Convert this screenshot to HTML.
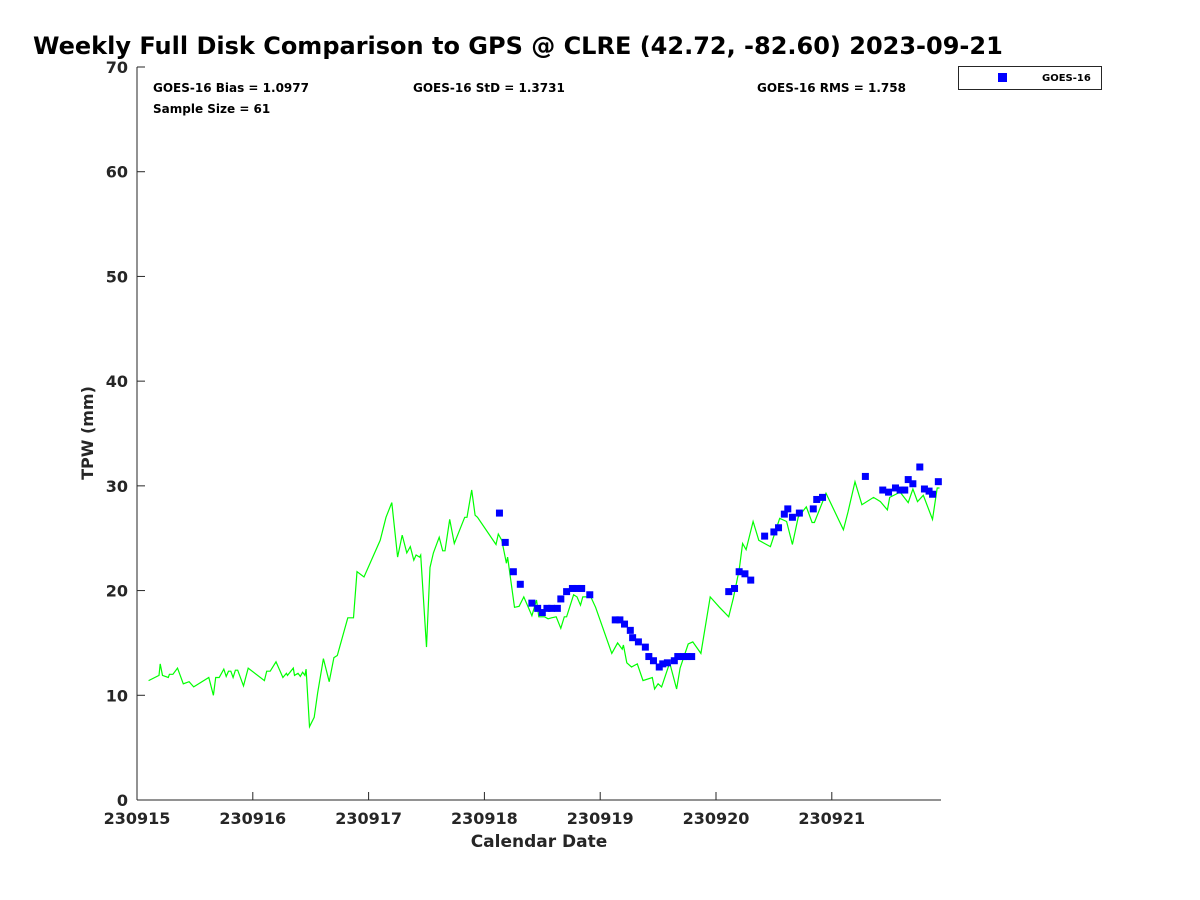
<!DOCTYPE html>
<html><head><meta charset="utf-8"><style>
body{margin:0;background:#fff;}
svg{display:block;font-family:"DejaVu Sans","Liberation Sans",sans-serif;}
</style></head><body>
<svg id="chart" width="1200" height="900">
<text x="33" y="54" font-size="24" font-weight="bold" fill="#000">Weekly Full Disk Comparison to GPS @ CLRE (42.72, -82.60) 2023-09-21</text>
<g font-size="12" font-weight="bold" fill="#000">
<text x="153" y="92">GOES-16 Bias = 1.0977</text>
<text x="413" y="92">GOES-16 StD = 1.3731</text>
<text x="757" y="92">GOES-16 RMS = 1.758</text>
<text x="153" y="113">Sample Size = 61</text>
</g>
<g>
<rect x="958.5" y="66.5" width="143" height="23" fill="#fff" stroke="#262626" stroke-width="1"/>
<rect x="998" y="73" width="9" height="9" fill="#0000ff"/>
<text x="1042" y="81" font-size="10" font-weight="bold" fill="#000">GOES-16</text>
</g>
<g id="axes"></g>
<g id="marks"></g>
<text x="539" y="847" font-size="17" font-weight="bold" fill="#262626" text-anchor="middle">Calendar Date</text>
<text transform="translate(93,433) rotate(-90)" font-size="16" font-weight="bold" fill="#262626" text-anchor="middle">TPW (mm)</text>
</svg>
<script>
const xTickLabels=["230915","230916","230917","230918","230919","230920","230921"];
const yTicks=[0,10,20,30,40,50,60,70];
const gpsDays=[.10,.19,.20,.22,.27,.28,.31,.35,.40,.45,.49,.62,.66,.68,.71,.75,.77,.79,.81,.83,.85,.87,.92,.96,1.10,1.12,1.15,1.20,1.26,1.29,1.30,1.35,1.36,1.39,1.41,1.43,1.45,1.46,1.49,1.53,1.56,1.61,1.66,1.70,1.73,1.82,1.87,1.90,1.96,2.10,2.15,2.20,2.25,2.29,2.33,2.36,2.39,2.41,2.44,2.45,2.50,2.53,2.56,2.61,2.64,2.66,2.70,2.74,2.83,2.85,2.89,2.92,2.94,3.10,3.12,3.15,3.19,3.20,3.26,3.30,3.34,3.41,3.45,3.47,3.52,3.55,3.58,3.62,3.66,3.69,3.71,3.77,3.80,3.83,3.85,3.89,3.91,3.96,4.10,4.15,4.19,4.20,4.23,4.27,4.32,4.37,4.45,4.47,4.50,4.53,4.60,4.66,4.69,4.76,4.80,4.87,4.95,5.03,5.11,5.15,5.20,5.23,5.26,5.32,5.37,5.42,5.47,5.55,5.61,5.66,5.71,5.78,5.83,5.85,5.95,6.10,6.14,6.20,6.26,6.36,6.39,6.42,6.48,6.50,6.59,6.66,6.70,6.74,6.79,6.87,6.91,6.93];
const gpsTPW=[11.4,11.9,13.0,11.9,11.7,12.0,12.0,12.6,11.1,11.3,10.8,11.7,10.0,11.7,11.7,12.5,11.8,12.3,12.3,11.7,12.4,12.4,10.9,12.6,11.4,12.3,12.3,13.2,11.7,12.1,11.9,12.6,11.9,12.1,11.8,12.2,11.9,12.5,7.0,7.9,10.2,13.5,11.3,13.6,13.8,17.4,17.4,21.8,21.3,24.8,27.0,28.4,23.2,25.3,23.6,24.2,22.9,23.4,23.2,23.4,14.6,22.2,23.6,25.1,23.8,23.8,26.8,24.5,27.0,27.0,29.6,27.2,27.0,24.4,25.4,24.8,22.6,23.2,18.4,18.5,19.4,17.6,19.1,17.5,17.5,17.3,17.4,17.5,16.4,17.5,17.5,19.6,19.4,18.6,19.4,19.4,19.6,18.4,14.0,15.0,14.4,14.8,13.1,12.7,13.0,11.4,11.7,10.6,11.1,10.8,13.1,10.6,12.6,14.9,15.1,14.0,19.4,18.4,17.5,19.3,22.0,24.5,23.9,26.6,24.8,24.5,24.2,26.9,26.6,24.4,27.0,28.0,26.5,26.5,29.3,25.8,27.5,30.4,28.2,28.9,28.7,28.5,27.7,28.9,29.4,28.4,29.7,28.5,29.1,26.8,29.8,29.8];
const goesDays=[3.13,3.18,3.25,3.31,3.41,3.46,3.50,3.54,3.58,3.63,3.66,3.71,3.76,3.80,3.84,3.91,4.13,4.17,4.21,4.26,4.28,4.33,4.39,4.42,4.46,4.51,4.54,4.58,4.64,4.67,4.72,4.75,4.79,5.11,5.16,5.20,5.25,5.30,5.42,5.50,5.54,5.59,5.62,5.66,5.72,5.84,5.87,5.92,6.29,6.44,6.49,6.55,6.59,6.63,6.66,6.70,6.76,6.80,6.84,6.87,6.92];
const goesTPW=[27.4,24.6,21.8,20.6,18.8,18.3,17.9,18.3,18.3,18.3,19.2,19.9,20.2,20.2,20.2,19.6,17.2,17.2,16.8,16.2,15.5,15.1,14.6,13.7,13.3,12.7,13.0,13.1,13.3,13.7,13.7,13.7,13.7,19.9,20.2,21.8,21.6,21.0,25.2,25.6,26.0,27.3,27.8,27.0,27.4,27.8,28.7,28.9,30.9,29.6,29.4,29.8,29.6,29.6,30.6,30.2,31.8,29.7,29.5,29.2,30.4];

const X0=137,X1=941,Y0=800,Y1=67;
const xs=d=>X0+d*115.8;
const ys=v=>Y0-(v/70)*(Y0-Y1);
const NS="http://www.w3.org/2000/svg";
function mk(tag,attrs,parent){const e=document.createElementNS(NS,tag);for(const k in attrs)e.setAttribute(k,attrs[k]);parent.appendChild(e);return e;}
const axes=document.getElementById('axes'),marks=document.getElementById('marks');
const yl=mk('line',{x1:X0,y1:Y1,x2:X0,y2:Y0,stroke:'#262626','stroke-width':1},axes);


const xl=mk('line',{x1:X0,y1:Y0,x2:X1,y2:Y0,stroke:'#262626','stroke-width':1},axes);


yTicks.forEach(v=>{
  const y=ys(v);
  const t=mk('line',{x1:X0,y1:y,x2:X0+8,y2:y,stroke:'#262626'},axes);
  
  
  const l=mk('text',{x:X0-9,y:y+6,'font-size':16,'font-weight':'bold',fill:'#262626','text-anchor':'end'},axes);
  l.textContent=v;
  
  
});
xTickLabels.forEach((s,i)=>{
  const x=xs(i);
  const t=mk('line',{x1:x,y1:Y0,x2:x,y2:Y0-8,stroke:'#262626'},axes);
  
  
  const l=mk('text',{x:x,y:Y0+24,'font-size':16,'font-weight':'bold',fill:'#262626','text-anchor':'middle'},axes);
  l.textContent=s;
  
  
});
const pts=gpsDays.map((d,i)=>xs(d).toFixed(1)+','+ys(gpsTPW[i]).toFixed(1)).join(' ');
const line=mk('polyline',{points:pts,fill:'none',stroke:'#00ff00','stroke-width':1.2},marks);


goesDays.forEach((d,i)=>{
  const r=mk('rect',{x:xs(d)-3.5,y:ys(goesTPW[i])-3.5,width:7,height:7,fill:'#0000ff'},marks);
  
  
});
</script>
</body></html>
